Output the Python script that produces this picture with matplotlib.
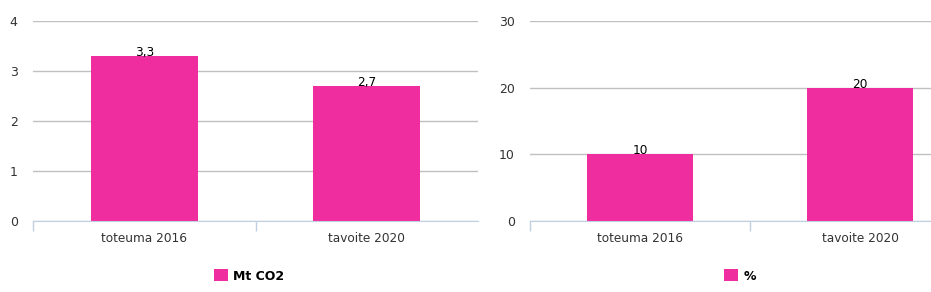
import matplotlib
matplotlib.use("Agg")
import matplotlib.pyplot as plt
from matplotlib.patches import Patch

categories = ["toteuma 2016", "tavoite 2020"]
co2_values = [3.3, 2.7]
co2_labels = ["3,3", "2,7"]
pct_values = [10, 20]
pct_labels = ["10", "20"]
co2_ticks = [0, 1, 2, 3, 4]
pct_ticks = [0, 10, 20, 30]
series_names = ["Mt CO2", "%"]

W, H = 931, 292
fig = plt.figure(figsize=(W / 100, H / 100), dpi=100)
plt.rcParams['font.family'] = ['DejaVu Sans']

BAR = "#ef2d9f"
GRID = "#c0c0c0"
AXIS = "#c0d0e0"
TXT = "#333333"

def px_axes(x0, x1, y0, y1):
    return fig.add_axes([x0 / W, 1 - y1 / H, (x1 - x0) / W, (y1 - y0) / H])

def draw(ax, vals, labels, ticks, ymax, name, legend_x):
    xs = list(range(len(categories)))
    ax.bar(xs, vals, width=0.48, color=BAR, zorder=3)
    ax.set_xlim(-0.5, len(categories) - 0.5)
    ax.set_ylim(0, ymax)
    ax.set_yticks(ticks)
    ax.set_yticklabels([str(t) for t in ticks])
    ax.set_xticks(xs)
    ax.set_xticklabels(categories)
    ax.set_xticks([x - 0.5 for x in xs], minor=True)
    ax.tick_params(axis='x', which='major', length=0, pad=8, labelsize=8.7, labelcolor=TXT)
    ax.tick_params(axis='x', which='minor', length=7, color=AXIS, width=1)
    ax.tick_params(axis='y', length=0, pad=11, labelsize=9, labelcolor=TXT)
    for lab in ax.get_yticklabels():
        lab.set_horizontalalignment('right')
    ax.grid(axis='y', color=GRID, linewidth=1, zorder=0)
    for s in ['top', 'right', 'left']:
        ax.spines[s].set_visible(False)
    ax.spines['bottom'].set_color(AXIS)
    ax.spines['bottom'].set_zorder(4)
    for x, v, t in zip(xs, vals, labels):
        ax.annotate(t, (x, v), xytext=(0, 2.5), textcoords='offset points',
                    ha='center', va='center', fontsize=8.7, color='black', zorder=5)
    fig.legend(handles=[Patch(facecolor=BAR, edgecolor='none')], labels=[name],
               loc='center', bbox_to_anchor=(legend_x / W, 1 - 276 / H),
               frameon=False, handlelength=1.1, handleheight=1.1, handletextpad=0.4,
               prop={'weight': 'bold', 'size': 9})

ax1 = px_axes(33, 478, 21, 221)
draw(ax1, co2_values, co2_labels, co2_ticks, 4, series_names[0], 249)
ax2 = px_axes(530, 970, 21, 221)
draw(ax2, pct_values, pct_labels, pct_ticks, 30, series_names[1], 740)

fig.savefig("out.png", dpi=100)
